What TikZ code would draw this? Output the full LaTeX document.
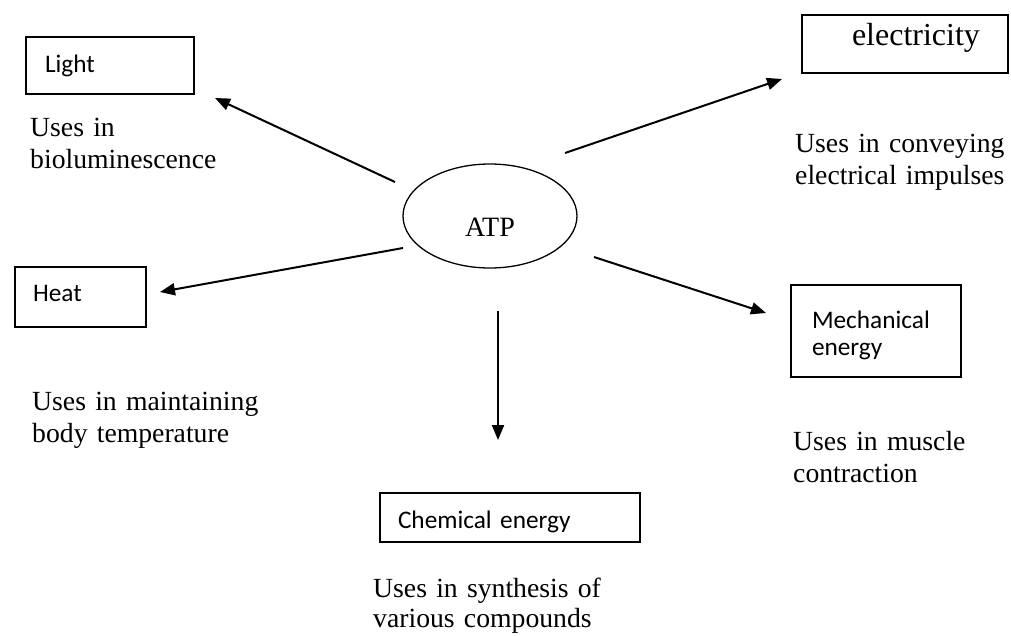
\documentclass[tikz,border=0pt]{standalone}
\usepackage{fontspec}
\setmainfont{Liberation Serif}
\newfontfamily\calibfont{Carlito}
\usetikzlibrary{arrows.meta,shapes.geometric}
\begin{document}
\begin{tikzpicture}[x=1pt,y=-1pt,
  box/.style={draw, line width=1.6pt, inner ysep=0pt, align=left, rectangle,
    font=\calibfont\fontsize{25.3}{27}\selectfont},
  desc/.style={anchor=base west, align=left, text width=260pt, inner sep=0pt,
    font=\fontsize{27.7}{32}\selectfont},
  arr/.style={line width=2pt, -{Triangle[length=15pt,width=12pt]}}]
\useasboundingbox (0,0) rectangle (1011,635);

% centre
\node[draw, ellipse, line width=1.3pt, minimum width=174pt, minimum height=104pt,
  inner sep=0pt, text height=44pt, text depth=4pt,
  font=\fontsize{28}{30}\selectfont] (atp) at (490,216) {ATP};

% boxes
\node[box, minimum width=168pt, minimum height=57pt, inner xsep=19pt,
  text width=130pt, text height=18pt, text depth=5pt] (light) at (110,65.5) {Light};
\node[box, minimum width=131pt, minimum height=60pt, inner xsep=18pt,
  text width=95pt, text height=18pt, text depth=10pt] (heat) at (80.5,297) {Heat};
\node[box, minimum width=206pt, minimum height=58pt, inner xsep=26pt,
  text width=154pt, text height=22pt, text depth=20pt,
  font=\fontsize{32}{34}\selectfont] (elec) at (905,44) {\hspace*{24pt}electricity};
\node[box, minimum width=170pt, minimum height=92pt, inner xsep=21pt,
  text width=128pt, text height=24pt, text depth=30pt] (mech) at (876,331) {Mechanical\\energy};
\node[box, minimum width=260pt, minimum height=49pt, inner xsep=18pt,
  text width=224pt, text height=24pt, text depth=3pt] (chem) at (510,517.5) {Chemical energy};

% descriptions
\node[desc] (dlight) at (30,136) {Uses in\\bioluminescence};
\node[desc] (delec) at (795,152) {Uses in conveying\\electrical impulses};
\node[desc] (dheat) at (32,410) {Uses in maintaining\\body temperature};
\node[desc] (dmech) at (793,450) {Uses in muscle\\contraction};
\node[desc, font=\fontsize{27.7}{30}\selectfont] (dchem) at (373,597) {Uses in synthesis of\\various compounds};

% arrow ends
\coordinate (lA) at (395,182); \coordinate (lB) at (215,98);
\coordinate (eA) at (565,153); \coordinate (eB) at (782,79);
\coordinate (hA) at (403,248); \coordinate (hB) at (160,292);
\coordinate (mA) at (594,257); \coordinate (mB) at (766,313);
\coordinate (cA) at (498,311); \coordinate (cB) at (498,440);

\draw[arr] (lA) -- (lB);
\draw[arr] (eA) -- (eB);
\draw[arr] (hA) -- (hB);
\draw[arr] (mA) -- (mB);
\draw[arr] (cA) -- (cB);
\end{tikzpicture}
\end{document}
